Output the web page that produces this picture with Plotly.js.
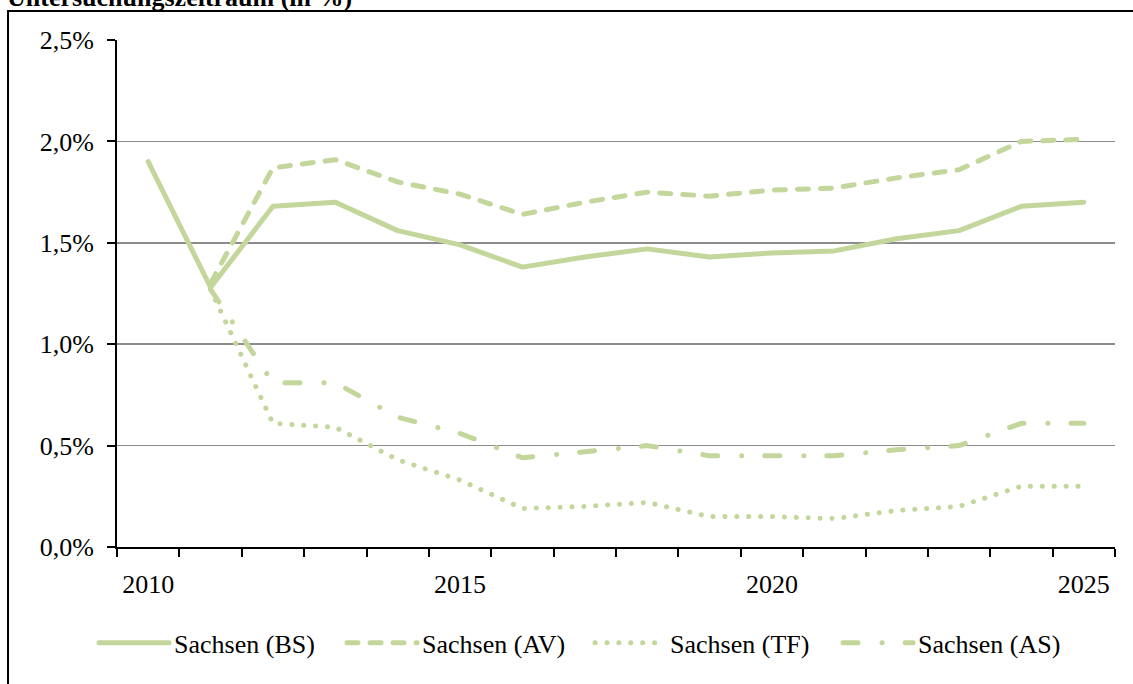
<!DOCTYPE html>
<html>
<head>
<meta charset="utf-8">
<script src="https://cdn.plot.ly/plotly-3.0.1.min.js"></script>
<style>
  html, body { margin: 0; padding: 0; background: #fff; }
  #chart { width: 1133px; height: 684px; }
  .js-line, .legendlines path { stroke-linecap: round; stroke-linejoin: round; }
</style>
</head>
<body>
<div id="chart"></div>
<script>
const years = [2010, 2011, 2012, 2013, 2014, 2015, 2016, 2017, 2018, 2019, 2020, 2021, 2022, 2023, 2024, 2025];
const seriesNames = ['Sachsen (BS)', 'Sachsen (AV)', 'Sachsen (TF)', 'Sachsen (AS)'];
const bsValues = [1.90, 1.28, 1.68, 1.70, 1.56, 1.49, 1.38, 1.43, 1.47, 1.43, 1.45, 1.46, 1.52, 1.56, 1.68, 1.70];
const avValues = [null, 1.30, 1.87, 1.91, 1.80, 1.74, 1.64, 1.70, 1.75, 1.73, 1.76, 1.77, 1.82, 1.86, 2.00, 2.01];
const tfValues = [null, 1.27, 0.61, 0.59, 0.43, 0.33, 0.19, 0.20, 0.22, 0.15, 0.15, 0.14, 0.18, 0.20, 0.30, 0.30];
const asValues = [null, 1.27, 0.81, 0.81, 0.64, 0.56, 0.44, 0.47, 0.50, 0.45, 0.45, 0.45, 0.48, 0.50, 0.61, 0.61];
const xTickVals = [2010, 2015, 2020, 2025];
const xTickText = ['2010', '2015', '2020', '2025'];
const yTickVals = [0, 0.5, 1.0, 1.5, 2.0, 2.5];
const yTickText = ['0,0%', '0,5%', '1,0%', '1,5%', '2,0%', '2,5%'];
const titleText = 'Untersuchungszeitraum (in %)';

const color = '#C3D69B';
const fontFam = 'Liberation Serif';
const dashes = ['solid', '11px,12px', '0.1px,11.8px', '15px,24px,0.1px,23px'];
const allValues = [bsValues, avValues, tfValues, asValues];

const traces = allValues.map((vals, i) => ({
  x: years,
  y: vals,
  name: seriesNames[i],
  type: 'scatter',
  mode: 'lines',
  connectgaps: false,
  line: { color: color, width: 5, dash: dashes[i] },
  hoverinfo: 'x+y+name'
}));

const layout = {
  width: 1133,
  height: 684,
  margin: { l: 117, r: 18, t: 40, b: 137 },
  paper_bgcolor: '#ffffff',
  plot_bgcolor: '#ffffff',
  font: { family: fontFam, size: 26, color: '#000000' },
  separators: ',.',
  showlegend: true,
  legend: {
    orientation: 'h',
    x: -0.023,
    xanchor: 'left',
    y: -0.189,
    yanchor: 'middle',
    entrywidth: 163,
    itemwidth: 70,
    font: { family: fontFam, size: 26, color: '#000000' },
    bgcolor: 'rgba(0,0,0,0)',
    traceorder: 'normal'
  },
  xaxis: {
    type: 'linear',
    range: [2009.5, 2025.5],
    tickmode: 'array',
    tickvals: xTickVals,
    ticktext: xTickText,
    ticks: 'outside',
    ticklen: 8,
    tickcolor: 'rgba(0,0,0,0)',
    ticklabelstandoff: 5,
    showgrid: false,
    zeroline: false,
    showline: true,
    linecolor: '#000000',
    linewidth: 2,
    minor: {
      tickmode: 'linear',
      tick0: 2009.5,
      dtick: 1,
      ticks: 'outside',
      ticklen: 8,
      tickwidth: 2,
      tickcolor: '#000000',
      showgrid: false
    },
    tickfont: { family: fontFam, size: 26, color: '#000000' },
    fixedrange: true
  },
  yaxis: {
    range: [0, 2.5],
    tickmode: 'array',
    tickvals: yTickVals,
    ticktext: yTickText,
    ticks: 'outside',
    ticklen: 8,
    tickwidth: 2,
    tickcolor: '#000000',
    ticklabelstandoff: 8,
    showgrid: true,
    gridcolor: '#8c8c8c',
    gridwidth: 1.5,
    zeroline: false,
    showline: true,
    linecolor: '#000000',
    linewidth: 2,
    tickfont: { family: fontFam, size: 26, color: '#000000' },
    fixedrange: true
  },
  shapes: [{
    type: 'rect',
    xref: 'paper', yref: 'paper',
    x0: -0.1092, x1: 1.2, y0: -0.5, y1: 1.0572,
    line: { color: '#000000', width: 2 },
    fillcolor: 'rgba(0,0,0,0)',
    layer: 'below'
  }],
  annotations: [{
    text: '<b>' + titleText + '</b>',
    xref: 'paper', yref: 'paper',
    x: -0.1122, xanchor: 'left',
    y: 1.0513, yanchor: 'bottom',
    showarrow: false,
    font: { family: fontFam, size: 26, color: '#000000' }
  }]
};

Plotly.newPlot('chart', traces, layout, { displayModeBar: false, staticPlot: true });
</script>
</body>
</html>
